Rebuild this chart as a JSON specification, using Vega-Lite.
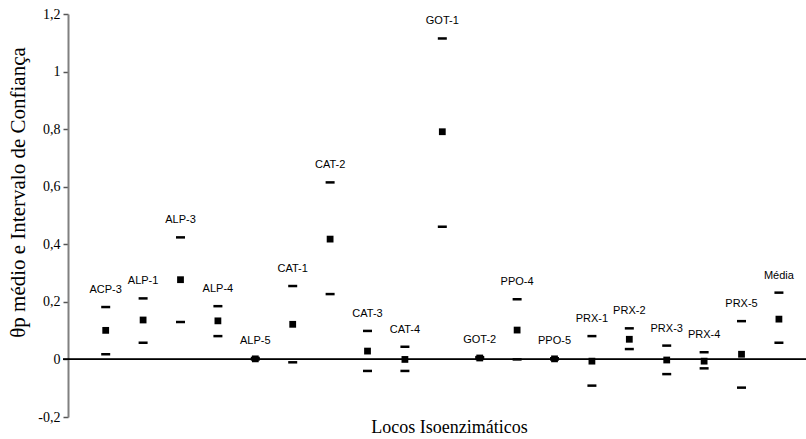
{
  "$schema": "https://vega.github.io/schema/vega-lite/v6.json",
  "autosize": {"type": "none"},
  "padding": {"left": 68, "top": 14, "right": 0, "bottom": 22},
  "width": 738,
  "height": 403,
  "background": "white",
  "config": {
    "view": {"stroke": null},
    "axis": {"labelFont": "Liberation Serif", "titleFont": "Liberation Serif"}
  },
  "data": {"values": [
    {"locus": "ACP-3", "media": 0.101, "sup": 0.182, "inf": 0.018},
    {"locus": "ALP-1", "media": 0.137, "sup": 0.212, "inf": 0.058},
    {"locus": "ALP-3", "media": 0.277, "sup": 0.424, "inf": 0.130},
    {"locus": "ALP-4", "media": 0.134, "sup": 0.185, "inf": 0.081},
    {"locus": "ALP-5", "media": 0.002, "sup": 0.005, "inf": 0.000},
    {"locus": "CAT-1", "media": 0.122, "sup": 0.255, "inf": -0.010},
    {"locus": "CAT-2", "media": 0.418, "sup": 0.615, "inf": 0.227},
    {"locus": "CAT-3", "media": 0.029, "sup": 0.099, "inf": -0.040},
    {"locus": "CAT-4", "media": 0.000, "sup": 0.044, "inf": -0.040},
    {"locus": "GOT-1", "media": 0.791, "sup": 1.115, "inf": 0.461},
    {"locus": "GOT-2", "media": 0.005, "sup": 0.008, "inf": 0.002},
    {"locus": "PPO-4", "media": 0.102, "sup": 0.209, "inf": 0.000},
    {"locus": "PPO-5", "media": 0.002, "sup": 0.004, "inf": 0.000},
    {"locus": "PRX-1", "media": -0.006, "sup": 0.081, "inf": -0.091},
    {"locus": "PRX-2", "media": 0.070, "sup": 0.108, "inf": 0.036},
    {"locus": "PRX-3", "media": -0.002, "sup": 0.048, "inf": -0.051},
    {"locus": "PRX-4", "media": -0.006, "sup": 0.025, "inf": -0.031},
    {"locus": "PRX-5", "media": 0.018, "sup": 0.133, "inf": -0.098},
    {"locus": "Média", "media": 0.140, "sup": 0.232, "inf": 0.058}
  ]},
  "encoding": {
    "x": {
      "field": "locus",
      "type": "nominal",
      "sort": null,
      "scale": {"type": "point", "padding": 0.866, "align": 0.582},
      "axis": {
        "title": "Locos Isoenzimáticos",
        "labels": false,
        "ticks": false,
        "domain": false,
        "titleFont": "Liberation Serif",
        "titleFontSize": 18,
        "titleFontWeight": "normal",
        "titleColor": "black",
        "titleX": 381,
        "titleY": 10,
        "titleBaseline": "middle",
        "titleAlign": "center",
        "titleAnchor": null
      }
    }
  },
  "layer": [
    {
      "mark": {"type": "rule", "color": "black", "strokeWidth": 1},
      "encoding": {
        "x": {"value": -5},
        "x2": {"value": 738},
        "y": {"datum": 0, "type": "quantitative", "scale": {"domain": [-0.2, 1.2], "nice": false, "zero": false}}
      }
    },
    {
      "mark": {"type": "tick", "color": "black", "size": 9, "thickness": 2.5, "opacity": 1},
      "encoding": {
        "y": {
          "field": "sup",
          "type": "quantitative",
          "scale": {"domain": [-0.2, 1.2], "nice": false, "zero": false},
          "axis": {
            "title": "θp médio e Intervalo de Confiança",
            "values": [-0.2, 0, 0.2, 0.4, 0.6, 0.8, 1, 1.2],
            "labelExpr": "replace(replace(format(datum.value, '~g'), '.', ','), '\u2212', '-')",
            "grid": false,
            "domainColor": "#808080",
            "domainWidth": 2,
            "tickColor": "#555555",
            "tickSize": 5,
            "tickWidth": 1.5,
            "labelFont": "Liberation Serif",
            "labelFontSize": 14,
            "labelColor": "black",
            "labelPadding": 3,
            "titleFont": "Liberation Serif",
            "titleFontSize": 21,
            "titleFontWeight": "normal",
            "titleColor": "black",
            "titleX": -50,
            "titleY": 178,
            "titleAngle": -90,
            "titleBaseline": "middle",
            "titleAlign": "center",
            "titleAnchor": null
          }
        }
      }
    },
    {
      "mark": {"type": "tick", "color": "black", "size": 9, "thickness": 2.5, "opacity": 1},
      "encoding": {"y": {"field": "inf", "type": "quantitative"}}
    },
    {
      "mark": {"type": "square", "color": "black", "filled": true, "size": 46, "opacity": 1},
      "encoding": {"y": {"field": "media", "type": "quantitative"}}
    },
    {
      "mark": {"type": "text", "font": "Liberation Sans", "fontSize": 11, "color": "black", "baseline": "middle", "align": "center", "dy": -17},
      "encoding": {
        "y": {"field": "sup", "type": "quantitative"},
        "text": {"field": "locus"}
      }
    }
  ]
}
